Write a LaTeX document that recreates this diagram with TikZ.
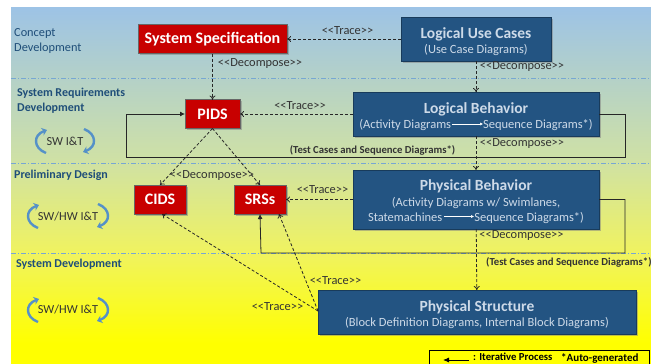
\documentclass[tikz,border=0pt]{standalone}
\usepackage{fontspec}
\setmainfont{Carlito}
\usetikzlibrary{shadows,arrows.meta}
\definecolor{boxblue}{RGB}{35,84,130}
\definecolor{boxred}{RGB}{200,0,0}
\definecolor{phasetext}{RGB}{31,78,121}
\definecolor{subtext}{RGB}{205,218,232}
\definecolor{cycleblue}{RGB}{85,145,200}
\definecolor{paneltop}{RGB}{157,195,230}
\definecolor{panelmid}{RGB}{207,225,165}
\definecolor{panellow}{RGB}{240,243,95}
\definecolor{panelend}{RGB}{255,255,0}
\pgfdeclareverticalshading{phasepanel}{100bp}{color(0bp)=(panelend); color(28bp)=(panelend); color(40.5bp)=(panellow); color(53.6bp)=(panelmid); color(75bp)=(paneltop); color(100bp)=(paneltop)}
\newcommand{\stereo}[1]{<{}<#1>{}>}
\newcommand{\fsize}[1]{\fontsize{#1}{#1}\selectfont}
\newcommand{\boxhead}[1]{{\bfseries\fsize{15.5}\rule{0pt}{16pt}#1}}
\tikzset{
    redbox/.style={draw=black!60,fill=boxred,text=white,font=\bfseries\fsize{16},inner sep=0pt,outer sep=0pt,line width=0.6pt,drop shadow={shadow xshift=1.5pt,shadow yshift=-1.5pt,opacity=0.5}},
    bluebox/.style={draw=boxblue!70!black,fill=boxblue,inner sep=0pt,outer sep=0pt,align=center,text=subtext,font=\fsize{12.5},line width=0.6pt,drop shadow={shadow xshift=1.5pt,shadow yshift=-1.5pt,opacity=0.5}},
    deriveline/.style={dashed,dash pattern=on 3pt off 2pt,line width=0.8pt,black!85,->,>={To[length=4pt,width=6pt]}},
    feedback/.style={line width=0.8pt,black!85,-{Latex[length=5pt,width=5pt]}},
    phaseline/.style={dash pattern=on 5pt off 2pt on 1pt off 2pt,line width=0.6pt,cycleblue!80},
    linklabel/.style={font=\fsize{12.4},text=black!80,inner sep=0pt},
    testlabel/.style={font=\bfseries\fsize{10.7},text=black!80,inner sep=0pt},
    phaselabel/.style={font=\bfseries\fsize{12},text=phasetext,inner sep=0pt,anchor=base west},
    cyclelabel/.style={font=\fsize{12.3},text=black!80,inner sep=0pt},
    cyclearc/.style={cycleblue,line width=2.4pt,-{Stealth[length=5pt,width=8pt]}}
}
\begin{document}
\begin{tikzpicture}[x=1pt,y=-1pt]
    \useasboundingbox (0,0) rectangle (651,364);
    \fill[white] (0,0) rectangle (651,364);
    \shade[shading=phasepanel] (11,7) rectangle (651,364);
    \draw[phaseline] (11,78) -- (651,78);
    \draw[phaseline] (11,163) -- (651,163);
    \draw[phaseline] (11,253) -- (651,253);

    \node[phaselabel,font=\fsize{12.3}] (concepta) at (14,36) {Concept};
    \node[phaselabel,font=\fsize{12.3}] (conceptb) at (14,51) {Development};
    \node[phaselabel] (reqa) at (17,96) {System Requirements};
    \node[phaselabel] (reqb) at (17,111) {Development};
    \node[phaselabel] (prelim) at (14,178) {Preliminary Design};
    \node[phaselabel] (sysdev) at (16,267) {System Development};

    \node[redbox,minimum width=149pt,minimum height=29pt] (sysspec) at (212.5,39) {System Specification};
    \node[redbox,minimum width=55pt,minimum height=29pt] (pids) at (212.5,114) {PIDS};
    \node[redbox,minimum width=52pt,minimum height=29pt] (cids) at (160,199.5) {CIDS};
    \node[redbox,minimum width=52pt,minimum height=29pt] (srss) at (260,199.5) {SRSs};

    \node[bluebox,minimum width=150pt,minimum height=44pt] (usecases) at (476,39) {\boxhead{Logical Use Cases}\\[3pt](Use Case Diagrams)};
    \node[bluebox,minimum width=246pt,minimum height=44pt] (logbeh) at (476,114) {\boxhead{Logical Behavior}\\[3pt](Activity Diagrams\hspace{32pt}Sequence Diagrams*)};
    \node[bluebox,minimum width=246pt,minimum height=59pt] (physbeh) at (476,199.5) {\boxhead{Physical Behavior}\\[3pt](Activity Diagrams w/ Swimlanes,\\[3pt]Statemachines\hspace{32pt}Sequence Diagrams*)};
    \node[bluebox,minimum width=318pt,minimum height=44pt] (physstr) at (477,312) {\boxhead{Physical Structure}\\[3pt](Block Definition Diagrams, Internal Block Diagrams)};

    \coordinate (logflowa) at (452,124);
    \coordinate (logflowb) at (483,124);
    \coordinate (physflowa) at (444,216.5);
    \coordinate (physflowb) at (474,216.5);
    \draw[white,line width=0.5pt,-{Latex[length=3pt,width=3pt]}] (logflowa) -- (logflowb);
    \draw[white,line width=0.5pt,-{Latex[length=3pt,width=3pt]}] (physflowa) -- (physflowb);

    \draw[deriveline] (usecases) -- (sysspec);
    \draw[deriveline] (sysspec) -- (pids);
    \draw[deriveline] (usecases) -- (logbeh);
    \draw[deriveline] (logbeh) -- (pids);
    \draw[deriveline] (pids.south) -- (cids.north);
    \draw[deriveline] (pids.south) -- (srss.north);
    \draw[deriveline] (logbeh) -- (physbeh);
    \draw[deriveline] (physbeh) -- (srss);
    \draw[deriveline] (physbeh) -- (physstr);
    \coordinate (physstrin) at (318,311);
    \draw[deriveline] (physstrin) -- ([xshift=2pt]cids.south);
    \draw[deriveline] (physstrin) -- ([xshift=-7pt]srss.south east);

    \coordinate (looplogr) at (625,114);
    \coordinate (looplogb) at (625,157);
    \coordinate (looplogl) at (126,157);
    \coordinate (loopphysr) at (625,199.5);
    \coordinate (loopphysb) at (625,253);
    \coordinate (loopphysl) at (261,253);
    \draw[feedback] (logbeh.east) -- (looplogr) -- (looplogb) -- (looplogl) |- (pids.west);
    \draw[feedback] (physbeh.east) -- (loopphysr) -- (loopphysb) -- (loopphysl) -- (srss.south);

    \node[linklabel] (tracea) at (347.5,31) {\stereo{Trace}};
    \node[linklabel] (traceb) at (300,106) {\stereo{Trace}};
    \node[linklabel] (tracec) at (322.5,190) {\stereo{Trace}};
    \node[linklabel] (traced) at (335.5,281) {\stereo{Trace}};
    \node[linklabel] (tracee) at (277.5,307) {\stereo{Trace}};
    \node[linklabel] (decompa) at (260,64) {\stereo{Decompose}};
    \node[linklabel] (decompb) at (522,67) {\stereo{Decompose}};
    \node[linklabel] (decompc) at (212,176) {\stereo{Decompose}};
    \node[linklabel] (decompd) at (522,144) {\stereo{Decompose}};
    \node[linklabel] (decompe) at (521.5,236) {\stereo{Decompose}};
    \node[testlabel] (testa) at (372.5,150) {(Test Cases and Sequence Diagrams*)};
    \node[testlabel,anchor=west] (testb) at (486,262) {(Test Cases and Sequence Diagrams*)};

    \node[cyclelabel] (swlabel) at (65,141) {SW I\&T};
    \node[cyclelabel] (hwlabela) at (68,216) {SW/HW I\&T};
    \node[cyclelabel] (hwlabelb) at (68,309.5) {SW/HW I\&T};
    \foreach \cx/\cy/\hw in {65/141/29,68/216/40,68/310/40} {
        \draw[cyclearc] ({\cx-\hw+10},{\cy+12}) .. controls ({\cx-\hw-3},{\cy+7}) and ({\cx-\hw-3},{\cy-6}) .. ({\cx-\hw+11},{\cy-11});
        \draw[cyclearc] ({\cx+\hw-10},{\cy-12}) .. controls ({\cx+\hw+3},{\cy-7}) and ({\cx+\hw+3},{\cy+6}) .. ({\cx+\hw-11},{\cy+11});
    }

    \draw[line width=0.8pt] (429,368) -- (429,350) -- (649,350) -- (649,368);
    \node[font=\bfseries\fsize{10.7},inner sep=0pt,anchor=base west] (legenda) at (473,360.5) {: Iterative Process};
    \node[font=\bfseries\fsize{11},inner sep=0pt,anchor=base west] (legendb) at (561,361) {*Auto-generated};
    \coordinate (legendtip) at (443,360);
    \draw[line width=0.8pt,-{Latex[length=6pt,width=5pt]}] (469,360) -- (legendtip);
\end{tikzpicture}
\end{document}
